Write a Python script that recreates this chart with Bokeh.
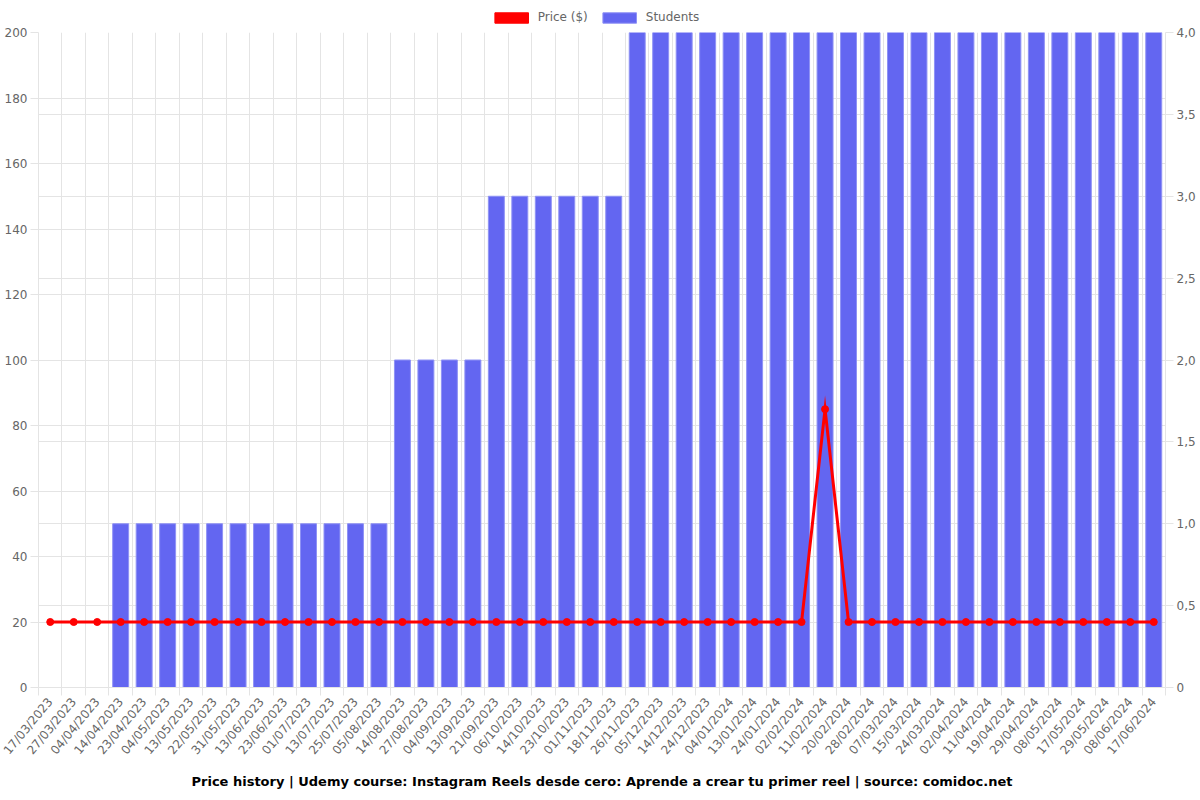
import math
from bokeh.plotting import figure
from bokeh.layouts import column
from bokeh.models import (Range1d, LinearAxis, FixedTicker, ColumnDataSource,
                          Legend, LegendItem)
from bokeh.embed import file_html
from bokeh.resources import INLINE

dates = ["17/03/2023", "27/03/2023", "04/04/2023", "14/04/2023", "23/04/2023",
         "04/05/2023", "13/05/2023", "22/05/2023", "31/05/2023", "13/06/2023",
         "23/06/2023", "01/07/2023", "13/07/2023", "25/07/2023", "05/08/2023",
         "14/08/2023", "27/08/2023", "04/09/2023", "13/09/2023", "21/09/2023",
         "06/10/2023", "14/10/2023", "23/10/2023", "01/11/2023", "18/11/2023",
         "26/11/2023", "05/12/2023", "14/12/2023", "24/12/2023", "04/01/2024",
         "13/01/2024", "24/01/2024", "02/02/2024", "11/02/2024", "20/02/2024",
         "28/02/2024", "07/03/2024", "15/03/2024", "24/03/2024", "02/04/2024",
         "11/04/2024", "19/04/2024", "29/04/2024", "08/05/2024", "17/05/2024",
         "29/05/2024", "08/06/2024", "17/06/2024"]

price = [20, 20, 20, 20, 20, 20, 20, 20, 20, 20,
         20, 20, 20, 20, 20, 20, 20, 20, 20, 20,
         20, 20, 20, 20, 20, 20, 20, 20, 20, 20,
         20, 20, 20, 84.99, 20, 20, 20, 20, 20, 20,
         20, 20, 20, 20, 20, 20, 20, 20]

students = [0, 0, 0, 1, 1, 1, 1, 1, 1, 1,
            1, 1, 1, 1, 1, 2, 2, 2, 2, 3,
            3, 3, 3, 3, 3, 4, 4, 4, 4, 4,
            4, 4, 4, 4, 4, 4, 4, 4, 4, 4,
            4, 4, 4, 4, 4, 4, 4, 4]

left_ticks = [0, 20, 40, 60, 80, 100, 120, 140, 160, 180, 200]
right_ticks = [0, 0.5, 1.0, 1.5, 2.0, 2.5, 3.0, 3.5, 4.0]
right_labels = ["0", "0,5", "1,0", "1,5", "2,0", "2,5", "3,0", "3,5", "4,0"]

FONT = "DejaVu Sans"
GRID = "#e4e4e4"
TXT = "#666666"
BAR = "#6366f1"
BAR_EDGE = "#8f92f5"

n = len(dates)
xs = list(range(n))
src = ColumnDataSource(dict(x=xs, price=price, students=students))

TOTAL_W = 1184
LEG_H = 26
FW, FH = 1127, 655
p = figure(frame_width=FW, frame_height=FH, output_backend="svg", toolbar_location=None,
           x_range=Range1d(-0.5, n - 0.5), y_range=Range1d(0, 200),
           min_border_left=38, min_border_right=TOTAL_W - 38 - FW, min_border_top=6,
           min_border_bottom=4, title_location="below",
           title="Price history | Udemy course: Instagram Reels desde cero: Aprende a crear tu primer reel | source: comidoc.net")
p.outline_line_color = None
p.background_fill_color = "white"
p.border_fill_color = "white"

p.extra_y_ranges = {"students": Range1d(0, 4)}

# bars
p.vbar(x="x", top="students", width=0.68, source=src, y_range_name="students",
       fill_color=BAR, line_color=BAR_EDGE, line_width=1)

# price line
p.line(x="x", y="price", source=src, line_color="red", line_width=3, line_join="miter")
p.scatter(x="x", y="price", source=src, size=7, fill_color="red", line_color="red")

# x axis
xax = p.xaxis[0]
xax.ticker = FixedTicker(ticks=xs, minor_ticks=[i - 0.5 for i in range(n + 1)])
xax.major_label_overrides = {i: d for i, d in enumerate(dates)}
xax.major_label_orientation = 0.88
xax.major_tick_line_color = None
xax.minor_tick_line_color = GRID
xax.minor_tick_out = 8
xax.minor_tick_in = 0
xax.axis_line_color = GRID
xax.major_label_text_font = FONT
xax.major_label_text_font_size = "12px"
xax.major_label_text_color = TXT
xax.major_label_standoff = 4

# left y axis
yax = p.yaxis[0]
yax.ticker = FixedTicker(ticks=left_ticks)
yax.major_tick_out = 8
yax.major_tick_in = 0
yax.minor_tick_line_color = None
yax.major_tick_line_color = GRID
yax.axis_line_color = GRID
yax.major_label_text_font = FONT
yax.major_label_text_font_size = "12px"
yax.major_label_text_color = TXT
yax.major_label_standoff = 3

# right y axis
rax = LinearAxis(y_range_name="students", ticker=FixedTicker(ticks=right_ticks))
rax.major_label_overrides = {t: l for t, l in zip(right_ticks, right_labels)}
rax.major_tick_out = 8
rax.major_tick_in = 0
rax.minor_tick_line_color = None
rax.major_tick_line_color = GRID
rax.axis_line_color = GRID
rax.major_label_text_font = FONT
rax.major_label_text_font_size = "12px"
rax.major_label_text_color = TXT
rax.major_label_standoff = 3
p.add_layout(rax, "right")

# grids
p.xgrid.ticker = FixedTicker(ticks=xs, minor_ticks=[i - 0.5 for i in range(n + 1)])
p.xgrid.grid_line_color = None
p.xgrid.minor_grid_line_color = GRID
p.ygrid.ticker = FixedTicker(ticks=sorted(set(left_ticks) | {t * 50 for t in right_ticks}))
p.ygrid.grid_line_color = GRID

p.title.align = "center"
p.title.text_font = FONT
p.title.text_font_size = "13px"
p.title.text_font_style = "bold"
p.title.text_color = "black"
p.title.standoff = 14

# legend strip (separate small figure above the chart)
lf = figure(width=TOTAL_W, height=LEG_H, output_backend="svg", toolbar_location=None,
            x_range=Range1d(0, 1), y_range=Range1d(0, 1),
            min_border=0, x_axis_type=None, y_axis_type=None)
lf.outline_line_color = None
lf.xgrid.visible = False
lf.ygrid.visible = False
dummy = ColumnDataSource(dict(x=[0], top=[float("nan")]))
r_price = lf.vbar(x="x", top="top", width=0.5, source=dummy, fill_color="red", line_color="red")
r_stu = lf.vbar(x="x", top="top", width=0.5, source=dummy, fill_color=BAR, line_color=BAR_EDGE)
legend = Legend(items=[LegendItem(label="Price ($)", renderers=[r_price]),
                       LegendItem(label="Students", renderers=[r_stu])],
                orientation="horizontal", location="bottom_center",
                glyph_width=42, glyph_height=13, label_text_font=FONT,
                label_text_font_size="12px", label_text_color=TXT,
                padding=0, margin=2, spacing=10, label_standoff=6,
                label_height=13,
                border_line_color=None, background_fill_alpha=0)
lf.add_layout(legend)

layout = column(lf, p, spacing=0)
open("out.html", "w").write(file_html(layout, INLINE))
